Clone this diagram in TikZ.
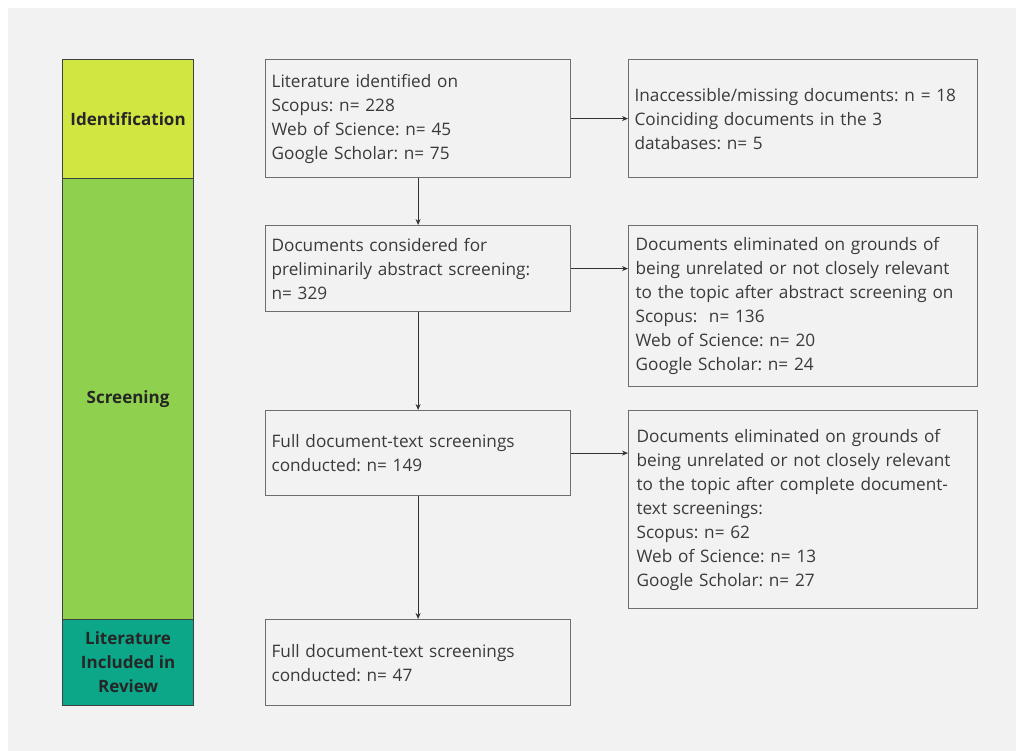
\documentclass[tikz,border=0pt]{standalone}
\usepackage{fontspec}
\setmainfont{Open Sans}
\frenchspacing
\usetikzlibrary{arrows.meta}
\definecolor{bggray}{HTML}{F2F2F2}
\definecolor{idcol}{HTML}{D2E641}
\definecolor{scrcol}{HTML}{8FD14F}
\definecolor{inccol}{HTML}{0CA789}
\definecolor{txtgray}{HTML}{3A3A3A}
\definecolor{edgegray}{HTML}{6E6E6E}

\begin{document}
\begin{tikzpicture}[x=1pt,y=-1pt,
    stage/.style={draw=black!75, line width=1.2pt, text=black!85, anchor=north west,
      font=\fontsize{17}{24}\selectfont\bfseries, align=center, minimum width=131pt, inner sep=0pt},
    infobox/.style={draw=edgegray, line width=1.2pt, text=txtgray, anchor=north west,
      font=\fontsize{17.2}{24}\selectfont, align=left, inner xsep=6pt, inner ysep=0pt},
    flow/.style={-{Stealth[length=6pt,width=5pt]}, line width=0.8pt, draw=black!80}]
  \useasboundingbox (0,0) rectangle (1016,751);
  \fill [bggray] (8,8) rectangle (1016,751);
  % stages on the left
  \node [stage, fill=idcol, minimum height=119pt] (identification) at (62,59) {Identification};
  \node [stage, fill=scrcol, minimum height=441pt] (screening) at (62,178) {Screening};
  \node [stage, fill=inccol, minimum height=86pt] (included) at (62,619) {Literature\\Included in\\Review};
  % main flow
  \node [infobox, minimum width=305pt, minimum height=118pt, text width=293pt] (found) at (265,59)
    {Literature identified on\\Scopus: n= 228\\Web of Science: n= 45\\Google Scholar: n= 75};
  \node [infobox, minimum width=305pt, minimum height=86pt, text width=293pt] (abstracts) at (265,225)
    {Documents considered for\\preliminarily abstract screening:\\n= 329};
  \node [infobox, minimum width=305pt, minimum height=85pt, text width=293pt] (fulltext) at (265,410)
    {Full document-text screenings\\conducted: n= 149};
  \node [infobox, minimum width=305pt, minimum height=86pt, text width=293pt] (kept) at (265,619)
    {Full document-text screenings\\conducted: n= 47};
  % removed documents
  \node [infobox, minimum width=349pt, minimum height=118pt, text width=337pt] (missing) at (628,59)
    {Inaccessible/missing documents: n = 18\\Coinciding documents in the 3\\databases: n= 5};
  \node [infobox, minimum width=349pt, minimum height=161pt, text width=335pt, inner xsep=7pt] (dropabs) at (628,225)
    {Documents eliminated on grounds of\\being unrelated or not closely relevant\\to the topic after abstract screening on\\Scopus:\ \ n= 136\\Web of Science: n= 20\\Google Scholar: n= 24};
  \node [infobox, minimum width=349pt, minimum height=198pt, text width=333pt, inner xsep=8pt] (dropfull) at (628,410)
    {Documents eliminated on grounds of\\being unrelated or not closely relevant\\to the topic after complete document-\\text screenings:\\Scopus: n= 62\\Web of Science: n= 13\\Google Scholar: n= 27};
  % connectors
  \draw [flow] (found.south) -- (abstracts.north);
  \draw [flow] (abstracts.south) -- (fulltext.north);
  \draw [flow] (fulltext.south) -- (kept.north);
  \draw [flow] (found.east) -- (missing.west);
  \draw [flow] (abstracts.east) -- (dropabs.west |- abstracts.east);
  \draw [flow] (fulltext.east) -- (dropfull.west |- fulltext.east);
\end{tikzpicture}
\end{document}
